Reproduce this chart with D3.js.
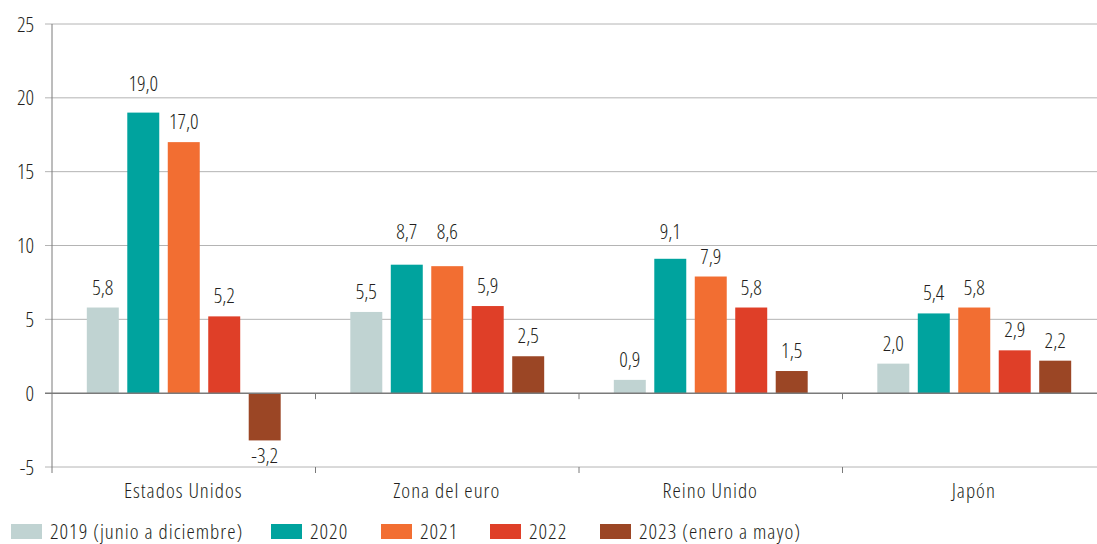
<!DOCTYPE html>
<html>
<head>
<meta charset="utf-8">
<script src="https://cdn.jsdelivr.net/npm/d3@7"></script>
<style>
  body { margin: 0; background: #fff; }
  text { font-family: "Open Sans", "DejaVu Sans Condensed", sans-serif; font-stretch: 75%; font-weight: 300; fill: #231f20; }
  text.word { letter-spacing: 1px; }
</style>
</head>
<body>
<div id="chart"></div>
<script>
const categories = ["Estados Unidos", "Zona del euro", "Reino Unido", "Japón"]
const seriesNames = ["2019 (junio a diciembre)", "2020", "2021", "2022", "2023 (enero a mayo)"]
const colors = ["#c0d3d2", "#00a39e", "#f26e32", "#df3f28", "#9b4625"]
const v2019 = [5.8, 5.5, 0.9, 2.0]
const v2020 = [19.0, 8.7, 9.1, 5.4]
const v2021 = [17.0, 8.6, 7.9, 5.8]
const v2022 = [5.2, 5.9, 5.8, 2.9]
const v2023 = [-3.2, 2.5, 1.5, 2.2]
const yTicks = [-5, 0, 5, 10, 15, 20, 25]

const series = [v2019, v2020, v2021, v2022, v2023]
const data = categories.map((c, i) => ({
    cat: c,
    values: series.map((s, j) => ({ key: seriesNames[j], value: s[i], color: colors[j] }))
}))

const W = 1097, H = 544
const plot = { left: 52, right: 1106, top: 24, bottom: 467 }

const svg = d3.select("#chart").append("svg")
    .attr("width", W)
    .attr("height", H)

const y = d3.scaleLinear().domain([-5, 25]).range([plot.bottom, plot.top])
const x0 = d3.scaleBand().domain(categories).range([plot.left, plot.right])
const x1 = d3.scaleBand().domain(seriesNames).range([0, x0.bandwidth()])
    .paddingInner(0.21).paddingOuter(0.86)

// gridlines
svg.append("g").selectAll("line")
    .data(yTicks.filter(d => d !== 0))
    .join("line")
    .attr("x1", plot.left - 7)
    .attr("x2", W)
    .attr("y1", d => y(d))
    .attr("y2", d => y(d))
    .attr("stroke", "#b4b4b4")
    .attr("stroke-width", 1)

// y labels
svg.append("g").selectAll("text")
    .data(yTicks)
    .join("text")
    .attr("x", 34)
    .attr("y", d => y(d))
    .attr("dy", "0.36em")
    .attr("text-anchor", "end")
    .style("font-size", "21px")
    .text(d => d)

// bars
const groups = svg.append("g").selectAll("g")
    .data(data)
    .join("g")
    .attr("transform", d => `translate(${x0(d.cat)},0)`)

groups.selectAll("rect")
    .data(d => d.values)
    .join("rect")
    .attr("x", d => x1(d.key))
    .attr("width", x1.bandwidth())
    .attr("y", d => y(Math.max(0, d.value)))
    .attr("height", d => Math.abs(y(d.value) - y(0)))
    .attr("fill", d => d.color)

// labels sit above the bar, pushed above a gridline when they would cross it
const gridY = yTicks.filter(d => d > 0).map(d => y(d))
function labelY(v) {
    if (v < 0) return y(v) + 23
    let base = y(v) - 13
    gridY.forEach(g => {
        if (g > base - 15 && g < base + 3) base = g - 7
    })
    return base
}

groups.selectAll("text")
    .data(d => d.values)
    .join("text")
    .attr("x", d => x1(d.key) + x1.bandwidth() / 2)
    .attr("y", d => labelY(d.value))
    .attr("text-anchor", "middle")
    .style("font-size", "21px")
    .text(d => d3.format(".1f")(d.value).replace(".", ",").replace("\u2212", "-"))

// zero line and left axis
svg.append("line")
    .attr("x1", plot.left - 7).attr("x2", W)
    .attr("y1", y(0)).attr("y2", y(0))
    .attr("stroke", "#7a7a7a").attr("stroke-width", 1.5)

svg.append("line")
    .attr("x1", plot.left).attr("x2", plot.left)
    .attr("y1", plot.top).attr("y2", plot.bottom + 6)
    .attr("stroke", "#7a7a7a").attr("stroke-width", 1)

// group ticks
const bounds = categories.slice(1).map(c => x0(c))
bounds.forEach(b => {
    svg.append("line")
        .attr("x1", b).attr("x2", b)
        .attr("y1", y(0)).attr("y2", y(0) + 6)
        .attr("stroke", "#7a7a7a")
    svg.append("line")
        .attr("x1", b).attr("x2", b)
        .attr("y1", plot.bottom).attr("y2", plot.bottom + 6)
        .attr("stroke", "#7a7a7a")
})

// category labels
svg.append("g").selectAll("text")
    .data(categories)
    .join("text")
    .attr("class", "word")
    .attr("x", d => x0(d) + x0.bandwidth() / 2 - 0.5)
    .attr("y", 498)
    .attr("text-anchor", "middle")
    .style("font-size", "21px")
    .text(d => d)

// legend
const legendX = [11, 271, 381, 490, 600]
const legend = svg.append("g").selectAll("g")
    .data(seriesNames)
    .join("g")
    .attr("transform", (d, i) => `translate(${legendX[i]},524)`)

legend.append("rect")
    .attr("width", 31)
    .attr("height", 15)
    .attr("fill", (d, i) => colors[i])

legend.append("text")
    .attr("class", "word")
    .attr("x", 39)
    .attr("y", 15)
    .style("font-size", "21px")
    .text(d => d)
</script>
</body>
</html>
